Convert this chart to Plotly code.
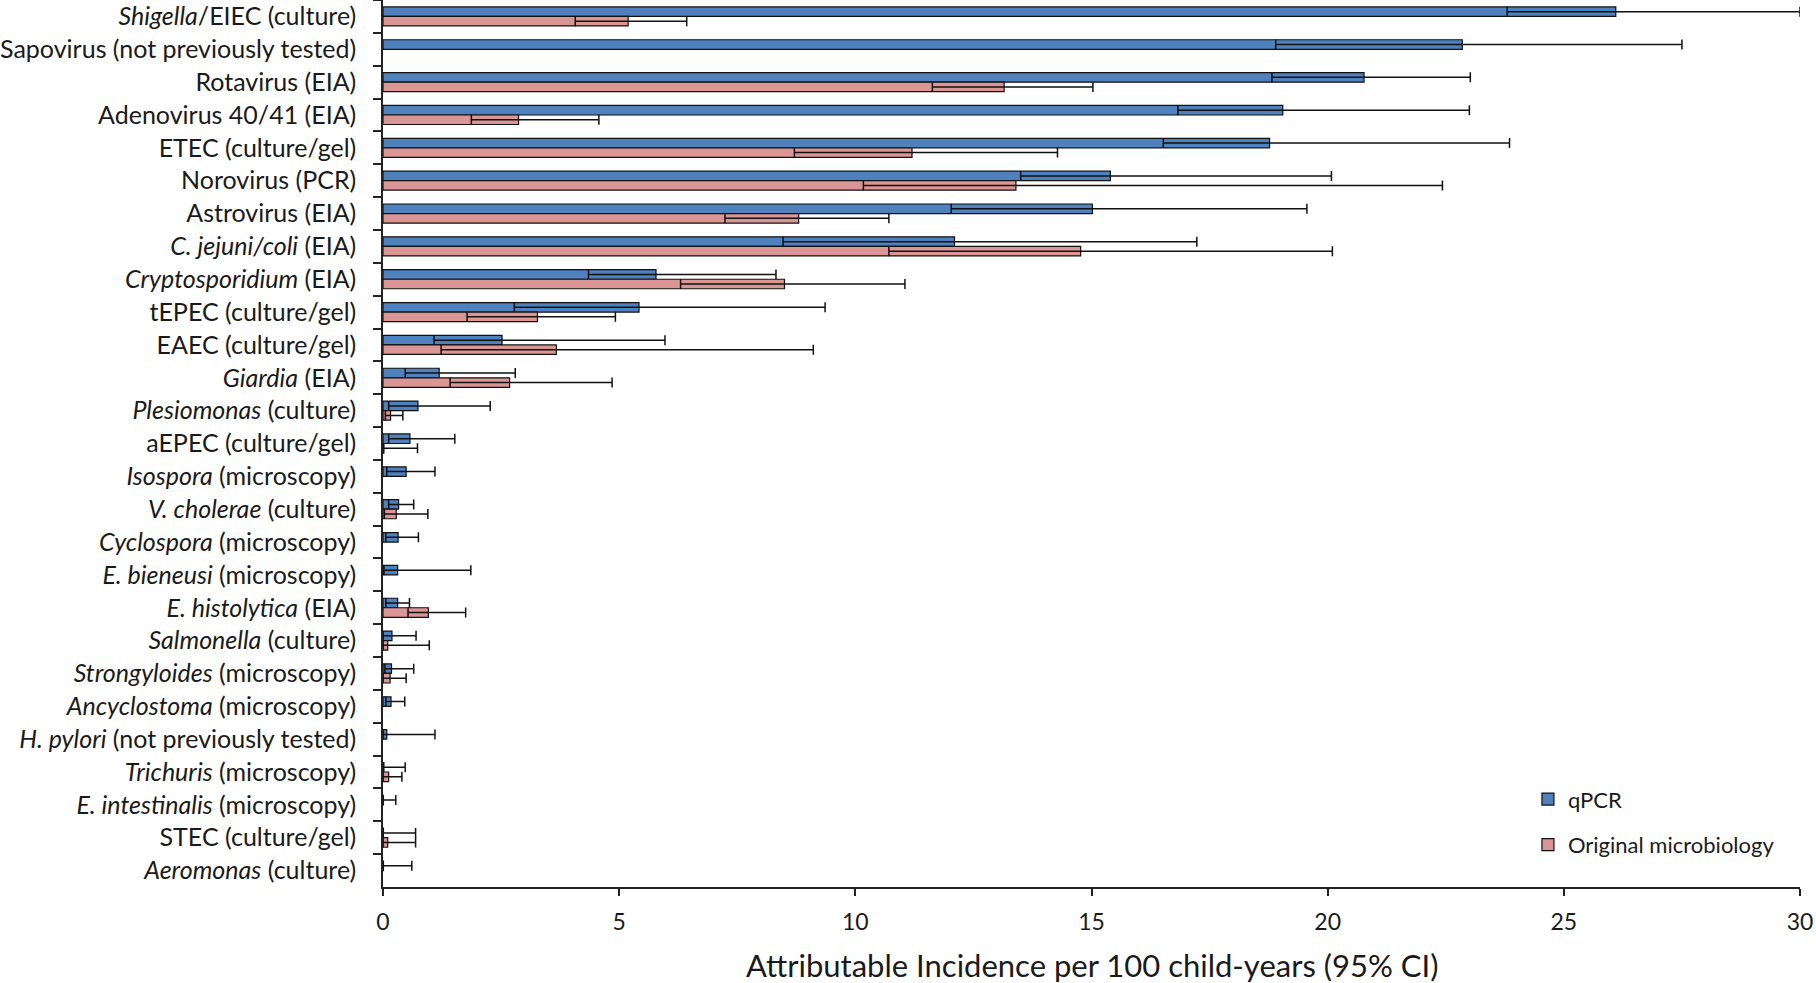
import plotly.graph_objects as go

# Pathogens, top to bottom
categories = [
    "<i>Shigella</i>/EIEC (culture)",
    "Sapovirus (not previously tested)",
    "Rotavirus (EIA)",
    "Adenovirus 40/41 (EIA)",
    "ETEC (culture/gel)",
    "Norovirus (PCR)",
    "Astrovirus (EIA)",
    "<i>C. jejuni/coli</i> (EIA)",
    "<i>Cryptosporidium</i> (EIA)",
    "tEPEC (culture/gel)",
    "EAEC (culture/gel)",
    "<i>Giardia</i> (EIA)",
    "<i>Plesiomonas</i> (culture)",
    "aEPEC (culture/gel)",
    "<i>Isospora</i> (microscopy)",
    "<i>V. cholerae</i> (culture)",
    "<i>Cyclospora</i> (microscopy)",
    "<i>E. bieneusi</i> (microscopy)",
    "<i>E. histolytica</i> (EIA)",
    "<i>Salmonella</i> (culture)",
    "<i>Strongyloides</i> (microscopy)",
    "<i>Ancyclostoma</i> (microscopy)",
    "<i>H. pylori</i> (not previously tested)",
    "<i>Trichuris</i> (microscopy)",
    "<i>E. intestinalis</i> (microscopy)",
    "STEC (culture/gel)",
    "<i>Aeromonas</i> (culture)",
]

# qPCR attributable incidence with 95% CI
qpcr_est = [26.1, 22.85, 20.77, 19.05, 18.77, 15.4, 15.02, 12.1, 5.78, 5.42, 2.52, 1.19, 0.74,
            0.57, 0.49, 0.33, 0.32, 0.31, 0.31, 0.19, 0.18, 0.17, 0.08, 0.02, 0.01, 0.01, 0.01]
qpcr_low = [23.8, 18.9, 18.82, 16.83, 16.52, 13.5, 12.03, 8.47, 4.35, 2.78, 1.08, 0.47, 0.12,
            0.12, 0.08, 0.12, 0.06, 0.02, 0.06, 0.0, 0.04, 0.06, 0.0, 0.0, 0.0, 0.0, 0.0]
qpcr_high = [30.0, 27.5, 23.02, 23.0, 23.85, 20.08, 19.56, 17.23, 8.32, 9.36, 5.97, 2.8, 2.27,
             1.52, 1.1, 0.65, 0.75, 1.86, 0.56, 0.7, 0.65, 0.46, 1.1, 0.47, 0.27, 0.69, 0.61]

# Original microbiology attributable incidence with 95% CI (None = not tested)
orig_est = [5.19, None, 13.15, 2.87, 11.2, 13.4, 8.8, 14.77, 8.5, 3.27, 3.67, 2.68, 0.16,
            0.02, None, 0.28, None, None, 0.96, 0.1, 0.15, None, None, 0.12, None, 0.1, None]
orig_low = [4.07, None, 11.63, 1.87, 8.71, 10.17, 7.24, 10.71, 6.3, 1.78, 1.23, 1.42, 0.05,
            0.0, None, 0.03, None, None, 0.53, 0.0, 0.0, None, None, 0.0, None, 0.0, None]
orig_high = [6.43, None, 15.03, 4.57, 14.28, 22.43, 10.71, 20.1, 11.05, 4.92, 9.11, 4.85, 0.42,
             0.73, None, 0.95, None, None, 1.75, 0.98, 0.49, None, None, 0.4, None, 0.69, None]

x_ticks = [0, 5, 10, 15, 20, 25, 30]
series_names = ["qPCR", "Original microbiology"]

FONT = "Lato"
INK = "#1a1a1a"


def ci_arrays(est, low, high):
    plus, minus = [], []
    for e, lo, hi in zip(est, low, high):
        if e is None:
            plus.append(None)
            minus.append(None)
        else:
            plus.append(hi - e)
            minus.append(e - lo)
    return plus, minus


fig = go.Figure()
for name, est, low, high, color, group in [
    (series_names[0], qpcr_est, qpcr_low, qpcr_high, "#4F81BD", "a"),
    (series_names[1], orig_est, orig_low, orig_high, "#DA9694", "b"),
]:
    plus, minus = ci_arrays(est, low, high)
    fig.add_trace(go.Bar(
        x=est, y=categories, orientation="h", name=name, legendgroup=group,
        marker=dict(color=color, line=dict(color="#111111", width=1.2)),
        error_x=dict(type="data", symmetric=False, array=plus, arrayminus=minus,
                     color="#111111", thickness=1.5, width=5),
    ))

fig.update_layout(
    width=1816, height=983,
    margin=dict(l=381, r=16, t=0, b=96, pad=0),
    paper_bgcolor="white", plot_bgcolor="white",
    barmode="group", bargap=0.42, bargroupgap=0,
    font=dict(family=FONT, color=INK, size=21),
    showlegend=True,
    legend=dict(x=0.808, y=0.073, xanchor="left", yanchor="middle",
                bgcolor="rgba(0,0,0,0)", font=dict(size=22, family=FONT, color=INK),
                tracegroupgap=14, traceorder="grouped"),
    xaxis=dict(range=[0, 30], tickvals=x_ticks, showgrid=False, zeroline=False,
               showline=True, linecolor="#222222", linewidth=1.5,
               ticks="outside", ticklen=7, tickcolor="#222222", tickwidth=1.5,
               ticklabelstandoff=7,
               tickfont=dict(size=23, family=FONT, color=INK), fixedrange=True),
    yaxis=dict(type="category", categoryorder="array", categoryarray=categories,
               autorange="reversed", showgrid=False, zeroline=False,
               showline=True, linecolor="#222222", linewidth=1.5,
               ticks="outside", ticklen=8, tickcolor="#222222", tickwidth=1.5,
               tickson="boundaries", ticklabelstandoff=20,
               tickfont=dict(size=25, family=FONT, color=INK)),
    annotations=[dict(
        text="Attributable Incidence per 100 child-years (95% CI)",
        x=0.5, xref="paper", y=0, yref="paper", yshift=-78, yanchor="middle",
        showarrow=False, font=dict(size=31, family=FONT, color=INK))],
)

fig.write_html("out.html")
